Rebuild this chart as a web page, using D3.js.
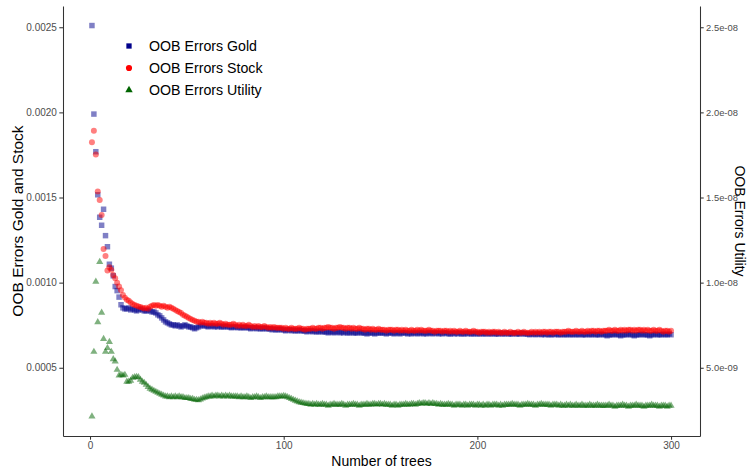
<!DOCTYPE html>
<html>
<head>
<meta charset="utf-8">
<script src="https://cdn.jsdelivr.net/npm/d3@7"></script>
<style>
  html, body { margin: 0; padding: 0; background: #fff; }
  svg { display: block; font-family: "Liberation Sans", Arial, Helvetica, sans-serif; }
</style>
</head>
<body>
<svg id="chart" width="748" height="470"></svg>
<script>
// Out-of-bag error per number of trees. Gold and stock in units of 1e-6.
const goldErr = [
  2510,1990,1769,1516,1384,1337,1431,1276,1211,1108,1085,1040,977,953,915,
  870,852,846,846,852,
  840,846,840,834,840,846,840,834,834,840,834,828,828,
  822,811,805,793,
  781,770,764,758,752,
  752,746,752,746,740,746,752,
  746,740,740,735,729,735,740,746,752,
  746,746,740,746,746,740,746,740,746,740,740,746,
  740,740,735,740,740,735,740,735,735,740,
  735,735,729,735,735,729,735,729,729,735,729,729,729,723,729,
  723,723,729,723,723,717,723,723,717,723,717,717,723,717,717,
  717,711,717,717,711,717,711,711,717,711,711,711,705,711,711,705,711,711,705,711,
  705,711,705,705,711,705,705,705,711,705,705,705,699,705,705,705,699,705,705,705,
  705,705,699,705,705,705,699,705,705,699,705,705,705,699,705,699,705,705,699,705,705,699,705,699,705,
  705,699,705,705,699,705,699,705,705,699,699,705,699,705,699,705,699,699,705,699,705,699,699,705,699,
  699,705,699,699,705,699,699,705,699,699,699,705,699,699,705,699,699,699,705,699,699,699,705,699,699,
  699,694,699,699,694,699,699,694,699,694,699,694,694,699,694,699,694,694,699,694,694,699,694,694,699,
  694,694,699,694,694,694,699,694,694,699,694,694,694,699,694,694,688,694,694,694,699,694,694,688,694,
  694,694,699,694,694,688,694,694,694,699,694,694,694,688,694,694,699,694,694,694,699,694,694,699,694
];

const stockErr = [
  1825,1892,1753,1536,1485,1397,1198,1157,1071,1090,1075,1045,1026,1000,977,956,928,912,900,893,884,875,869,865,860,857,852,848,
  852,846,
  858,864,869,864,869,864,858,864,858,852,858,852,
  846,840,834,828,
  822,811,805,799,793,787,781,776,770,770,764,
  770,764,764,758,764,758,764,758,758,764,758,752,758,752,752,
  752,758,752,746,752,746,752,746,746,752,746,740,746,740,746,740,740,746,740,735,740,735,740,735,735,735,
  735,729,735,729,729,735,729,729,729,735,729,729,723,729,729,729,735,729,729,735,735,729,
  735,735,740,735,735,729,735,735,740,735,735,729,735,735,729,735,729,729,735,729,729,723,729,729,723,729,723,723,729,723,723,723,717,723,723,
  723,717,723,723,717,723,717,723,717,717,723,717,717,723,717,723,717,717,717,723,717,717,711,717,717,
  717,711,717,717,711,717,711,717,711,711,717,711,711,717,711,711,711,717,711,711,705,711,711,711,705,
  711,705,711,711,705,711,705,705,711,705,705,711,705,705,705,711,705,705,711,705,705,705,711,705,711,
  705,711,705,711,711,705,711,711,705,711,711,711,705,711,711,711,717,711,711,711,717,711,711,717,711,
  711,717,711,717,717,711,717,717,711,717,717,717,723,717,717,723,717,717,723,717,723,717,723,723,717,
  723,717,723,723,717,723,717,723,717,717,723,717,717,723,717,711,717,717,711,717
];

// Utility errors in units of 1e-9 (secondary axis).
const utilityErr = [
  2.14,5.94,10.06,7.68,11.22,8.24,6.70,5.94,6.16,6.52,5.94,5.51,5.37,4.88,4.55,4.59,4.55,4.59,4.18,4.18,4.24,4.41,4.45,4.47,4.45,4.30,4.18,
  4.12,4.00,3.88,3.77,3.71,3.65,3.59,3.53,3.47,
  3.42,3.37,3.32,3.32,3.27,3.32,3.27,3.32,3.27,
  3.32,3.27,3.27,3.22,3.22,3.22,3.17,3.17,3.12,3.12,
  3.10,3.14,3.20,3.24,3.27,
  3.32,3.32,3.37,3.32,3.37,3.37,3.32,3.37,3.32,3.37,3.32,3.37,3.32,3.32,3.32,
  3.32,3.27,3.32,3.27,3.27,3.32,3.27,3.22,3.27,3.27,3.32,3.27,3.22,3.27,3.27,3.32,3.27,3.27,3.27,3.27,
  3.27,3.32,3.32,3.32,3.35,3.32,3.27,3.22,3.17,3.12,
  3.07,3.02,2.98,2.95,2.93,2.90,2.88,2.88,2.83,2.88,
  2.83,2.88,2.83,2.83,2.88,2.83,2.83,2.77,2.83,2.83,2.88,2.83,2.83,2.83,2.88,2.83,2.77,2.83,2.83,2.83,2.88,2.83,2.83,2.77,2.83,
  2.83,2.83,2.88,2.83,2.83,2.88,2.88,2.83,2.88,2.88,2.83,2.88,2.83,2.83,2.83,2.77,2.83,2.83,2.77,2.83,2.83,2.83,2.88,2.83,2.83,
  2.88,2.88,2.83,2.88,2.93,2.88,2.93,2.93,2.88,2.93,2.88,2.93,2.88,2.88,2.83,2.88,2.83,2.83,2.83,2.88,2.83,2.83,2.77,2.83,2.83,
  2.83,2.77,2.83,2.83,2.77,2.83,2.83,2.83,2.77,2.83,2.83,2.77,2.83,2.77,2.83,2.83,2.77,2.83,2.83,2.83,2.77,2.83,2.77,2.83,2.83,
  2.83,2.83,2.88,2.83,2.83,2.83,2.77,2.83,2.83,2.83,2.88,2.83,2.83,2.83,2.77,2.83,2.83,2.88,2.83,2.83,2.83,2.83,2.77,2.83,2.83,
  2.83,2.77,2.83,2.77,2.77,2.83,2.77,2.83,2.77,2.77,2.83,2.77,2.77,2.83,2.77,2.77,2.77,2.83,2.77,2.77,2.77,2.83,2.77,2.77,2.77,
  2.77,2.77,2.83,2.77,2.77,2.72,2.77,2.77,2.77,2.83,2.77,2.77,2.72,2.77,2.77,2.77,2.83,2.77,2.77,2.77,2.72,2.77,2.77,2.77,2.83,
  2.77,2.77,2.77,2.72,2.77,2.77,2.77,2.72,2.77,2.77
];

const leftTicks  = [0.0005, 0.0010, 0.0015, 0.0020, 0.0025];
const rightTicks = [5e-9, 1e-8, 1.5e-8, 2e-8, 2.5e-8];
const xTicks     = [0, 100, 200, 300];
const seriesNames = ["OOB Errors Gold", "OOB Errors Stock", "OOB Errors Utility"];
const seriesColors = ["#00008B", "#FF0000", "#006400"];
const utilityFactor = 1e5; // secondary axis = primary / 1e5

const gold = goldErr.map(v => v * 1e-6);
const stock = stockErr.map(v => v * 1e-6);
const utility = utilityErr.map(v => v * 1e-9);
const trees = d3.range(1, gold.length + 1);

const svg = d3.select("#chart");
const panel = { left: 63, right: 700, top: 6, bottom: 436 };

// ggplot-style 5% expansion around the data range
function expand([lo, hi], f = 0.05) { const d = (hi - lo) * f; return [lo - d, hi + d]; }

const x = d3.scaleLinear()
  .domain(expand(d3.extent(trees)))
  .range([panel.left, panel.right]);

const allLeft = gold.concat(stock, utility.map(v => v * utilityFactor));
const y = d3.scaleLinear()
  .domain(expand(d3.extent(allLeft)))
  .range([panel.bottom, panel.top]);

const yRight = y.copy().domain(y.domain().map(d => d / utilityFactor));

// Points
const sym = d3.symbol();
function drawSeries(values, type, size, color, scaleFn) {
  svg.append("g")
    .selectAll("path")
    .data(values)
    .join("path")
    .attr("d", sym.type(type).size(size)())
    .attr("transform", (v, i) => `translate(${x(trees[i])},${scaleFn(v)})`)
    .attr("fill", color)
    .attr("fill-opacity", 0.5);
}
drawSeries(gold, d3.symbolSquare, 30, seriesColors[0], v => y(v));
drawSeries(stock, d3.symbolCircle, 28, seriesColors[1], v => y(v));
drawSeries(utility, d3.symbolTriangle, 22, seriesColors[2], v => yRight(v));

// Axes
function styleAxis(g, size) {
  g.attr("font-size", null).attr("font-family", null);
  g.select(".domain").attr("stroke", "#333").attr("stroke-width", 1.05);
  g.selectAll(".tick line").attr("stroke", "#333").attr("stroke-width", 1.05);
  g.selectAll(".tick text").attr("fill", "#4d4d4d").style("font-size", size);
}

const sciFmt = d => {
  const [m, e] = d.toExponential(1).split("e");
  return m + "e" + e[0] + e.slice(1).padStart(2, "0");
};

svg.append("g")
  .attr("transform", `translate(${panel.left},0)`)
  .call(d3.axisLeft(y).tickValues(leftTicks).tickFormat(d3.format(".4f"))
    .tickSize(3.7).tickSizeOuter(0).tickPadding(2.4))
  .call(styleAxis, "10px");

svg.append("g")
  .attr("transform", `translate(${panel.right},0)`)
  .call(d3.axisRight(yRight).tickValues(rightTicks).tickFormat(sciFmt)
    .tickSize(3.7).tickSizeOuter(0).tickPadding(2.4))
  .call(styleAxis, "9.4px");

svg.append("g")
  .attr("transform", `translate(0,${panel.bottom})`)
  .call(d3.axisBottom(x).tickValues(xTicks).tickFormat(d3.format("d"))
    .tickSize(3.7).tickSizeOuter(0).tickPadding(2.4))
  .call(styleAxis, "10px");

// Axis titles
const midY = (panel.top + panel.bottom) / 2;
svg.append("text")
  .attr("x", (panel.left + panel.right) / 2).attr("y", 466)
  .attr("text-anchor", "middle").style("font-size", "14px").attr("fill", "#000")
  .text("Number of trees");

svg.append("text")
  .attr("transform", `translate(23,${midY}) rotate(-90)`)
  .attr("text-anchor", "middle").style("font-size", "15.5px").attr("fill", "#000")
  .text("OOB Errors Gold and Stock");

svg.append("text")
  .attr("transform", `translate(735,${midY}) rotate(90)`)
  .attr("text-anchor", "middle").style("font-size", "14px").attr("fill", "#000")
  .text("OOB Errors Utility");

// Legend
const legendTypes = [d3.symbolSquare, d3.symbolCircle, d3.symbolTriangle];
const legendSizes = [28, 30, 24];
const legend = svg.append("g").attr("transform", "translate(129,46)");
seriesNames.forEach((name, i) => {
  const row = legend.append("g").attr("transform", `translate(0,${i * 22})`);
  row.append("path")
    .attr("d", d3.symbol().type(legendTypes[i]).size(legendSizes[i])())
    .attr("fill", seriesColors[i]);
  row.append("text")
    .attr("x", 20).attr("y", 5)
    .style("font-size", "14.2px").attr("fill", "#000")
    .text(name);
});
</script>
</body>
</html>
